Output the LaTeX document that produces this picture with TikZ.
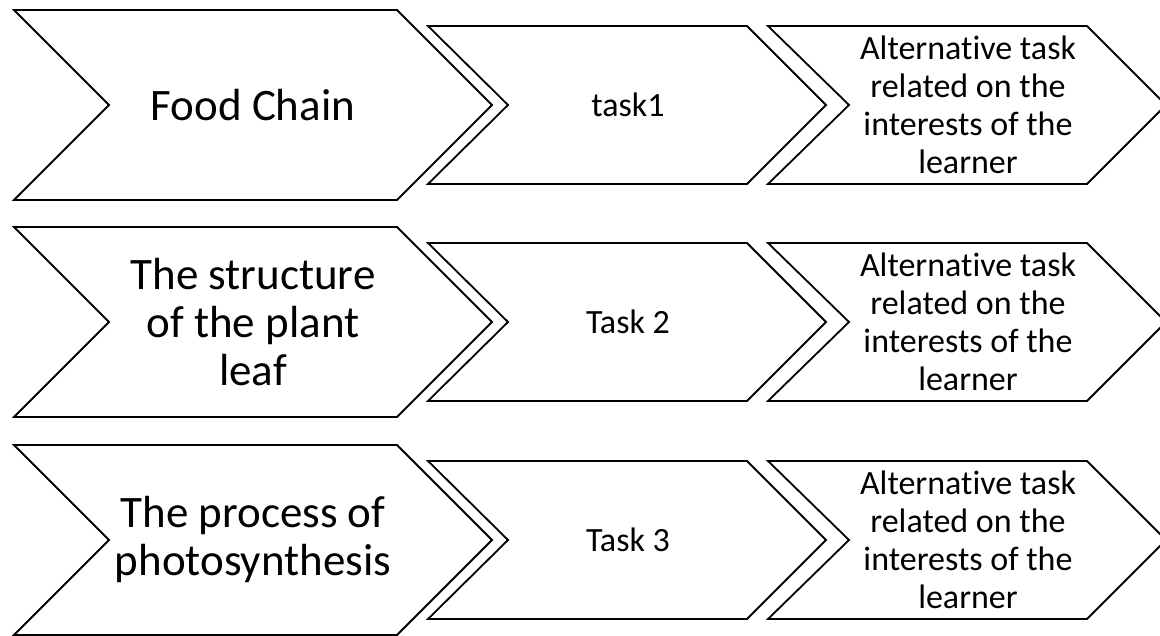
\documentclass[tikz,border=0pt]{standalone}
\usepackage{fontspec}
\setmainfont{Carlito}[RawFeature=-liga]
\begin{document}
\begin{tikzpicture}[x=1pt,y=-1pt,
  chev/.style={draw=black,line width=1.8pt,fill=white,line join=miter},
  bigtxt/.style={align=center,font=\fontsize{45}{48}\selectfont,inner sep=0pt},
  smalltxt/.style={align=center,font=\fontsize{34}{38}\selectfont,inner sep=0pt}]
\useasboundingbox (0,0) rectangle (1160,636);
\foreach \cy in {105,322,540} {
  \draw[chev] (14,{\cy-95}) -- (397,{\cy-95}) -- (492,\cy) -- (397,{\cy+95}) -- (14,{\cy+95}) -- (109,\cy) -- cycle;
  \draw[chev] (428,{\cy-79}) -- (747,{\cy-79}) -- (826,\cy) -- (747,{\cy+79}) -- (428,{\cy+79}) -- (508,\cy) -- cycle;
  \draw[chev] (768,{\cy-79}) -- (1087,{\cy-79}) -- (1166,\cy) -- (1087,{\cy+79}) -- (768,{\cy+79}) -- (849,\cy) -- cycle;
}
\node[bigtxt] (m1) at (253,105) {Food Chain};
\node[smalltxt] (t1) at (628,105) {task1};
\node[smalltxt] (a1) at (968,105) {Alternative task\\related on the\\interests of the\\learner};
\node[bigtxt] (m2) at (253,322) {The structure\\of the plant\\leaf};
\node[smalltxt] (t2) at (628,322) {Task 2};
\node[smalltxt] (a2) at (968,322) {Alternative task\\related on the\\interests of the\\learner};
\node[bigtxt] (m3) at (253,540) {The process of\\photosynthesis};
\node[smalltxt] (t3) at (628,540) {Task 3};
\node[smalltxt] (a3) at (968,540) {Alternative task\\related on the\\interests of the\\learner};
\end{tikzpicture}
\end{document}
